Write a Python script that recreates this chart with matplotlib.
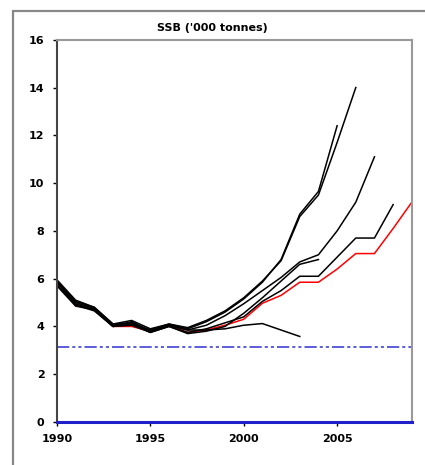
import matplotlib.pyplot as plt
from matplotlib.patches import Rectangle

# ==========================
# DATA (retrospective SSB runs, '000 tonnes)
# ==========================

start_year = 1990

ssb_2003 = [5.85, 4.95, 4.70, 4.00, 4.20, 3.80, 4.05, 3.85, 3.85, 3.90, 4.05, 4.12, 3.85, 3.58]
ssb_2004 = [5.75, 4.90, 4.65, 4.00, 4.10, 3.75, 4.00, 3.70, 3.80, 4.00, 4.55, 5.20, 5.90, 6.60, 6.80]
ssb_2005 = [5.90, 5.05, 4.80, 4.10, 4.15, 3.85, 4.10, 3.90, 4.20, 4.60, 5.15, 5.85, 6.80, 8.70, 9.65, 12.40]
ssb_2006 = [5.95, 5.10, 4.80, 4.10, 4.25, 3.90, 4.10, 3.95, 4.25, 4.65, 5.20, 5.90, 6.75, 8.60, 9.50, 11.70, 14.00]
ssb_2007 = [5.85, 5.00, 4.75, 4.05, 4.15, 3.80, 4.05, 3.85, 4.05, 4.45, 4.95, 5.50, 6.05, 6.70, 7.00, 8.00, 9.20, 11.10]
ssb_2008 = [5.70, 4.85, 4.70, 4.00, 4.05, 3.75, 4.00, 3.75, 3.90, 4.15, 4.40, 5.05, 5.50, 6.10, 6.10, 6.90, 7.70, 7.70, 9.10]
ssb_2009 = [5.75, 4.90, 4.70, 4.00, 4.00, 3.80, 4.05, 3.75, 3.85, 4.05, 4.30, 4.97, 5.30, 5.85, 5.85, 6.40, 7.05, 7.05, 8.10, 9.20]

b_lim = 3.15
x_ticks = [1990, 1995, 2000, 2005]
y_ticks = [0, 2, 4, 6, 8, 10, 12, 14, 16]

# ==========================
# PLOT
# ==========================

fig = plt.figure(figsize=(4.25, 4.65), dpi=100)
ax = fig.add_axes([0.134, 0.0925, 0.835, 0.822])

# latest run in red, drawn under the older black runs
years = list(range(start_year, start_year + len(ssb_2009)))
ax.plot(years, ssb_2009, color='#ff0000', lw=1.1)

black_runs = [ssb_2003, ssb_2004, ssb_2005, ssb_2006, ssb_2007, ssb_2008]
for run in black_runs:
    years = list(range(start_year, start_year + len(run)))
    ax.plot(years, run, color='black', lw=1.1)

# reference lines
ax.axhline(b_lim, color='#3030d0', lw=1.1, linestyle=(0, (8, 2, 2, 2, 2, 2)))
ax.axhline(0, color='#2020c8', lw=2.2, clip_on=False, zorder=5)

# ==========================
# AXIS CONFIGURATION
# ==========================

ax.set_xlim(1990, 2009)
ax.set_ylim(0, 16)
ax.set_xticks(x_ticks)
ax.set_yticks(y_ticks)
ax.tick_params(axis='both', labelsize=8, length=3, width=1, direction='out', pad=6)
for lbl in ax.get_xticklabels() + ax.get_yticklabels():
    lbl.set_fontweight('bold')

ax.spines['left'].set_color('#444444')
ax.spines['left'].set_linewidth(1.5)
ax.spines['bottom'].set_visible(False)
for side in ['top', 'right']:
    ax.spines[side].set_color('#999999')
    ax.spines[side].set_linewidth(1.5)

fig.text(0.499, 0.94, "SSB ('000 tonnes)", ha='center', va='center',
         fontsize=8, fontweight='bold')

# outer chart frame (only top and left edges fall inside the image)
frame = Rectangle((0.031, -0.1), 1.2, 1.076, transform=fig.transFigure,
                  fill=False, edgecolor='#888888', lw=1.6)
fig.patches.append(frame)

fig.savefig('out.png', dpi=100)
